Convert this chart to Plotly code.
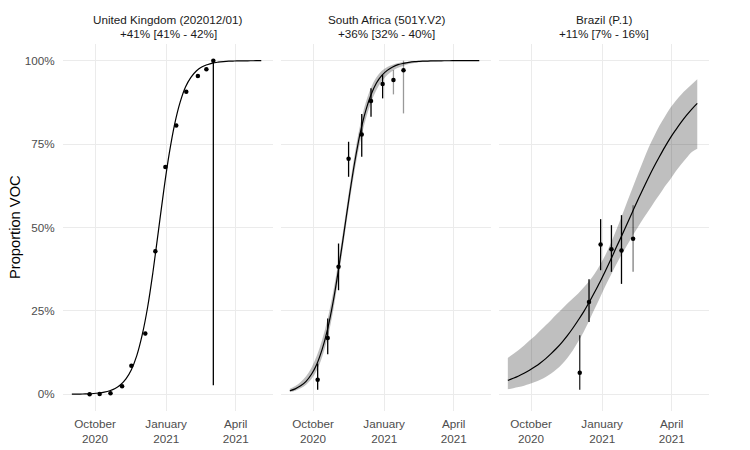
import pandas as pd
import plotly.graph_objects as go

# ---------------- data ----------------
panel_titles = ["United Kingdom (202012/01)", "South Africa (501Y.V2)", "Brazil (P.1)"]
panel_subtitles = ["+41% [41% - 42%]", "+36% [32% - 40%]", "+11% [7% - 16%]"]

curve_dates = pd.date_range("2020-09-01", periods=36, freq="7D")

uk_fit = [0.0003, 0.0005, 0.0009, 0.0015, 0.0024, 0.0040, 0.0066, 0.0108, 0.0176, 0.0287,
          0.0462, 0.0738, 0.116, 0.178, 0.261, 0.368, 0.490, 0.613, 0.722, 0.810,
          0.875, 0.921, 0.950, 0.969, 0.981, 0.988, 0.9929, 0.9956, 0.9973, 0.9984,
          0.9990, 0.9994, 0.9996, 0.9998, 0.9999, 0.9999]

sa_fit = [0.0106, 0.0164, 0.0254, 0.039, 0.060, 0.091, 0.136, 0.197, 0.277, 0.375,
          0.484, 0.595, 0.697, 0.783, 0.849, 0.898, 0.933, 0.956, 0.971, 0.981,
          0.988, 0.992, 0.995, 0.997, 0.998, 0.9987, 0.9992, 0.9995, 0.9997, 0.9998,
          0.9999, 1.0, 1.0, 1.0, 1.0, 1.0]
sa_lo = [0.007, 0.011, 0.018, 0.029, 0.046, 0.072, 0.113, 0.171, 0.250, 0.350,
         0.462, 0.572, 0.672, 0.757, 0.823, 0.874, 0.912, 0.938, 0.957, 0.970,
         0.979, 0.985, 0.990, 0.993, 0.995, 0.9965, 0.9975, 0.9983, 0.9988, 0.9992,
         0.9994, 0.9996, 0.9997, 0.9998, 0.9998, 0.9999]
sa_hi = [0.017, 0.025, 0.037, 0.054, 0.080, 0.116, 0.165, 0.227, 0.306, 0.400,
         0.506, 0.618, 0.721, 0.808, 0.873, 0.919, 0.950, 0.970, 0.981, 0.988,
         0.993, 0.996, 0.997, 0.998, 0.999, 0.9995, 0.9997, 0.9998, 0.9999, 1.0,
         1.0, 1.0, 1.0, 1.0, 1.0, 1.0]

br_fit = [0.0419, 0.0481, 0.0551, 0.0631, 0.0722, 0.0825, 0.094, 0.107, 0.122, 0.138,
          0.156, 0.176, 0.198, 0.222, 0.247, 0.275, 0.305, 0.336, 0.369, 0.403,
          0.439, 0.474, 0.510, 0.546, 0.582, 0.616, 0.650, 0.682, 0.712, 0.741,
          0.768, 0.792, 0.815, 0.836, 0.855, 0.872]
br_lo = [0.0154, 0.0182, 0.0216, 0.0259, 0.0307, 0.0366, 0.0437, 0.0521, 0.0625, 0.075,
         0.0904, 0.109, 0.131, 0.158, 0.187, 0.220, 0.255, 0.289, 0.324, 0.356,
         0.388, 0.418, 0.446, 0.474, 0.500, 0.526, 0.550, 0.575, 0.598, 0.623,
         0.644, 0.668, 0.689, 0.708, 0.726, 0.736]
br_hi = [0.109, 0.121, 0.133, 0.146, 0.161, 0.175, 0.191, 0.207, 0.223, 0.240,
         0.256, 0.272, 0.287, 0.302, 0.320, 0.339, 0.361, 0.387, 0.417, 0.452,
         0.491, 0.532, 0.575, 0.617, 0.659, 0.699, 0.739, 0.773, 0.805, 0.832,
         0.858, 0.879, 0.898, 0.914, 0.929, 0.944]

uk_obs_dates = ["2020-09-24", "2020-10-07", "2020-10-21", "2020-11-05", "2020-11-17", "2020-12-05",
                "2020-12-18", "2020-12-31", "2021-01-14", "2021-01-27", "2021-02-11", "2021-02-22",
                "2021-03-03"]
uk_obs = [0.000, 0.001, 0.003, 0.024, 0.086, 0.182, 0.429, 0.681, 0.806, 0.907, 0.954, 0.974, 1.000]
uk_obs_lo = [0.000, 0.000, 0.002, 0.021, 0.082, 0.177, 0.423, 0.676, 0.802, 0.904, 0.951, 0.970, 0.027]
uk_obs_hi = [0.001, 0.002, 0.004, 0.027, 0.090, 0.187, 0.435, 0.686, 0.810, 0.910, 0.957, 0.978, 1.000]
uk_obs_alpha = [1, 1, 1, 1, 1, 1, 1, 1, 1, 1, 1, 1, 1]

sa_obs_dates = ["2020-10-07", "2020-10-20", "2020-11-03", "2020-11-16", "2020-12-03", "2020-12-15",
                "2020-12-30", "2021-01-13", "2021-01-26"]
sa_obs = [0.044, 0.169, 0.382, 0.706, 0.779, 0.879, 0.930, 0.942, 0.971]
sa_obs_lo = [0.014, 0.120, 0.312, 0.652, 0.712, 0.832, 0.887, 0.899, 0.842]
sa_obs_hi = [0.092, 0.227, 0.452, 0.757, 0.840, 0.917, 0.957, 0.972, 1.000]
sa_obs_alpha = [1, 1, 1, 1, 1, 1, 1, 0.4, 0.4]

br_obs_dates = ["2020-12-03", "2020-12-15", "2020-12-30", "2021-01-13", "2021-01-26", "2021-02-10"]
br_obs = [0.065, 0.277, 0.449, 0.435, 0.431, 0.466]
br_obs_lo = [0.014, 0.217, 0.372, 0.367, 0.331, 0.367]
br_obs_hi = [0.177, 0.345, 0.525, 0.507, 0.537, 0.567]
br_obs_alpha = [0.85, 1, 1, 1, 1, 0.5]

x_tick_vals = ["2020-10-01", "2021-01-01", "2021-04-01"]
x_tick_text = ["October<br>2020", "January<br>2021", "April<br>2021"]
y_tick_vals = [0, 0.25, 0.5, 0.75, 1.0]
y_tick_text = ["0%", "25%", "50%", "75%", "100%"]

# ---------------- figure ----------------
W, H = 750, 450
FONT = "Liberation Sans, Arial, sans-serif"
panels_px = [(63, 273), (281, 491), (499, 709)]
top_px, bot_px = 44, 411
x_range = ["2020-08-20 14:00", "2021-05-19 04:00"]

panels = [
    dict(fit=uk_fit, lo=None, hi=None, od=uk_obs_dates, o=uk_obs, olo=uk_obs_lo, ohi=uk_obs_hi, oa=uk_obs_alpha),
    dict(fit=sa_fit, lo=sa_lo, hi=sa_hi, od=sa_obs_dates, o=sa_obs, olo=sa_obs_lo, ohi=sa_obs_hi, oa=sa_obs_alpha),
    dict(fit=br_fit, lo=br_lo, hi=br_hi, od=br_obs_dates, o=br_obs, olo=br_obs_lo, ohi=br_obs_hi, oa=br_obs_alpha),
]

fig = go.Figure()
layout = dict(
    width=W, height=H, margin=dict(l=0, r=0, t=0, b=0, autoexpand=False),
    paper_bgcolor="white", plot_bgcolor="white", showlegend=False,
    font=dict(family=FONT, color="#4d4d4d", size=11.7),
    annotations=[],
)

for i, p in enumerate(panels):
    suffix = "" if i == 0 else str(i + 1)
    xa, ya = "x" + suffix, "y" + suffix
    if p["lo"] is not None:
        fig.add_trace(go.Scatter(x=curve_dates, y=p["lo"], mode="lines", line=dict(width=0, shape="spline"),
                                 xaxis=xa, yaxis=ya, hoverinfo="skip"))
        fig.add_trace(go.Scatter(x=curve_dates, y=p["hi"], mode="lines", line=dict(width=0, shape="spline"),
                                 fill="tonexty", fillcolor="rgba(0,0,0,0.25)", xaxis=xa, yaxis=ya, hoverinfo="skip"))
    fig.add_trace(go.Scatter(x=curve_dates, y=p["fit"], mode="lines",
                             line=dict(color="black", width=1.2, shape="spline"), xaxis=xa, yaxis=ya))
    for d, lo, hi, a in zip(p["od"], p["olo"], p["ohi"], p["oa"]):
        fig.add_trace(go.Scatter(x=[d, d], y=[lo, hi], mode="lines",
                                 line=dict(color=f"rgba(0,0,0,{a})", width=1.3), xaxis=xa, yaxis=ya))
    fig.add_trace(go.Scatter(x=p["od"], y=p["o"], mode="markers",
                             marker=dict(color="black", size=4.5), xaxis=xa, yaxis=ya))

    x0, x1 = panels_px[i]
    layout["xaxis" + suffix] = dict(
        domain=[x0 / W, x1 / W], range=x_range, type="date", anchor=ya, automargin=False,
        tickvals=x_tick_vals, ticktext=x_tick_text, showgrid=True, gridcolor="#ebebeb", gridwidth=1.1,
        zeroline=False, showline=False, ticks="outside", ticklen=2, tickcolor="rgba(0,0,0,0)",
        tickfont=dict(family=FONT, size=11.7, color="#4d4d4d"),
    )
    layout["yaxis" + suffix] = dict(
        domain=[(H - bot_px) / H, (H - top_px) / H], range=[-0.05, 1.05], anchor=xa, automargin=False,
        tickvals=y_tick_vals, ticktext=y_tick_text, showgrid=True, gridcolor="#ebebeb", gridwidth=1.1,
        zeroline=False, showline=False, showticklabels=(i == 0),
        ticks="outside" if i == 0 else "", ticklen=5, tickcolor="rgba(0,0,0,0)",
        tickfont=dict(family=FONT, size=11.7, color="#4d4d4d"),
    )
    cx = (x0 + x1) / 2 / W
    layout["annotations"].append(dict(text=panel_titles[i], x=cx, y=1 - 20 / H, xref="paper", yref="paper",
                                      showarrow=False, xanchor="center", yanchor="middle",
                                      font=dict(family=FONT, size=11.7, color="#1a1a1a")))
    layout["annotations"].append(dict(text=panel_subtitles[i], x=cx, y=1 - 33 / H, xref="paper", yref="paper",
                                      showarrow=False, xanchor="center", yanchor="middle",
                                      font=dict(family=FONT, size=11.7, color="#1a1a1a")))

layout["annotations"].append(dict(text="Proportion VOC", x=15 / W, y=(H - 227) / H, xref="paper", yref="paper",
                                  showarrow=False, textangle=-90, xanchor="center", yanchor="middle",
                                  font=dict(family=FONT, size=14.7, color="black")))

fig.update_layout(**layout)
fig.write_html("out.html", config={"displayModeBar": False},
               post_script="document.body.style.margin='0';")
